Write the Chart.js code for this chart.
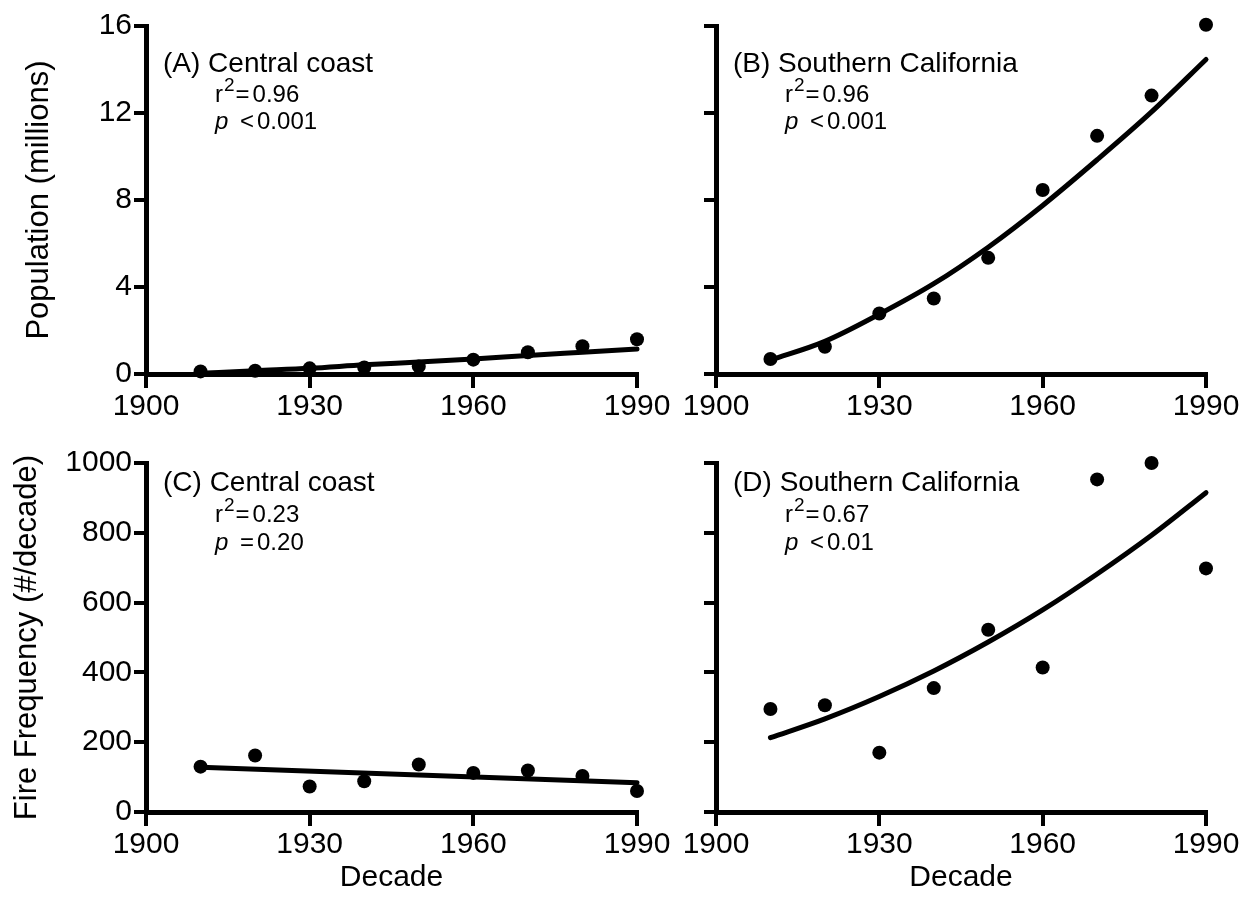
<!DOCTYPE html>
<html>
<head>
<meta charset="utf-8">
<script src="https://cdn.jsdelivr.net/npm/chart.js@4.4.1/dist/chart.umd.min.js"></script>
<style>
html, body { margin: 0; padding: 0; background: #fff; }
.panel { position: absolute; }
</style>
</head>
<body>
<div class="panel" style="left:0;top:0;width:673px;height:440px"><canvas id="chartA"></canvas></div>
<div class="panel" style="left:673px;top:0;width:576px;height:440px"><canvas id="chartB"></canvas></div>
<div class="panel" style="left:0;top:440px;width:673px;height:476px"><canvas id="chartC"></canvas></div>
<div class="panel" style="left:673px;top:440px;width:576px;height:476px"><canvas id="chartD"></canvas></div>
<script>
// decades sampled
const decades = [1910, 1920, 1930, 1940, 1950, 1960, 1970, 1980, 1990];
const xTicks = [1900, 1930, 1960, 1990];

// population (millions)
const popCentral = [0.12, 0.15, 0.26, 0.30, 0.35, 0.66, 1.00, 1.28, 1.60];
const popCentralFit = [0.03, 0.15, 0.26, 0.42, 0.55, 0.69, 0.85, 1.00, 1.15];
const popSouth = [0.69, 1.25, 2.78, 3.47, 5.34, 8.46, 10.95, 12.80, 16.06];
const popSouthFit = [0.64, 1.50, 2.75, 4.15, 5.83, 7.75, 9.85, 12.05, 14.46];

// fire frequency (#/decade)
const fireCentral = [130, 162, 73, 88, 136, 112, 119, 103, 60];
const fireCentralFitYears = [1910, 1990];
const fireCentralFit = [128, 84];
const fireSouth = [295, 306, 170, 355, 522, 414, 953, 1000, 698];
const fireSouthFit = [213, 267, 331, 404, 487, 579, 682, 793, 915];

const popTicks = [0, 4, 8, 12, 16];
const fireTicks = [0, 200, 400, 600, 800, 1000];

const FONT = '"Liberation Sans", Arial, Helvetica, sans-serif';
Chart.defaults.font.family = FONT;
Chart.defaults.color = '#000';

const pts = (xs, ys) => xs.map((x, i) => ({ x: x, y: ys[i] }));

// text block in the top-left corner of each panel
const notePlugin = {
    id: 'panelNote',
    afterDraw(chart, args, opts) {
        if (!opts.heading) return;
        const { ctx, chartArea } = chart;
        const x0 = chartArea.left + 17;
        const xr = chartArea.left + 69;
        const y0 = chartArea.top + opts.dy[0];
        const y1 = chartArea.top + opts.dy[1];
        const y2 = chartArea.top + opts.dy[2];
        ctx.save();
        ctx.fillStyle = '#000';
        ctx.textAlign = 'left';
        ctx.textBaseline = 'middle';
        ctx.font = '28px ' + FONT;
        ctx.fillText(opts.heading, x0, y0);

        ctx.font = '24px ' + FONT;
        ctx.fillText('r', xr, y1);
        let x = xr + ctx.measureText('r').width + 1;
        ctx.font = '19px ' + FONT;
        ctx.fillText('2', x, y1 - 9);
        x += ctx.measureText('2').width + 1;
        ctx.font = '24px ' + FONT;
        ctx.fillText('=', x, y1);
        x += ctx.measureText('=').width + 3;
        ctx.fillText(opts.r2, x, y1);

        ctx.font = 'italic 24px ' + FONT;
        ctx.fillText('p', xr, y2);
        x = xr + 25;
        ctx.font = '24px ' + FONT;
        ctx.fillText(opts.pOp, x, y2);
        x += ctx.measureText(opts.pOp).width + 3;
        ctx.fillText(opts.p, x, y2);
        ctx.restore();
    }
};

function makePanel(id, cfg) {
    const ctx = document.getElementById(id).getContext('2d');
    return new Chart(ctx, {
        type: 'scatter',
        data: {
            datasets: [{
                label: 'observed',
                data: cfg.points,
                showLine: false,
                pointRadius: 7,
                pointHoverRadius: 7,
                pointBackgroundColor: '#000',
                pointBorderColor: '#000',
                pointBorderWidth: 0,
                clip: false
            }, {
                label: 'fit',
                data: cfg.fit,
                showLine: true,
                borderColor: '#000',
                borderWidth: 5,
                pointRadius: 0,
                cubicInterpolationMode: 'monotone',
                borderCapStyle: 'round',
                clip: false
            }]
        },
        options: {
            responsive: true,
            maintainAspectRatio: false,
            animation: false,
            events: [],
            layout: { padding: cfg.padding },
            plugins: {
                legend: { display: false },
                tooltip: { enabled: false },
                panelNote: cfg.note
            },
            scales: {
                x: {
                    type: 'linear',
                    min: 1900,
                    max: 1990,
                    afterBuildTicks: s => { s.ticks = xTicks.map(v => ({ value: v })); },
                    afterFit: s => { s.height = cfg.xHeight; },
                    border: { display: true, color: '#000', width: 5 },
                    grid: { drawOnChartArea: false, color: '#000', lineWidth: 4, tickLength: 14 },
                    ticks: {
                        font: { size: 30 }, padding: 1, maxRotation: 0, color: '#000',
                        callback: v => String(v)
                    },
                    title: {
                        display: !!cfg.xTitle,
                        text: cfg.xTitle || '',
                        font: { size: 30 },
                        color: '#000',
                        padding: { top: 0, bottom: 20 }
                    }
                },
                y: {
                    type: 'linear',
                    min: cfg.yTicks[0],
                    max: cfg.yTicks[cfg.yTicks.length - 1],
                    afterBuildTicks: s => { s.ticks = cfg.yTicks.map(v => ({ value: v })); },
                    afterFit: s => { s.width = cfg.yWidth; },
                    border: { display: true, color: '#000', width: 5 },
                    grid: { drawOnChartArea: false, color: '#000', lineWidth: 4, tickLength: 12 },
                    ticks: {
                        display: cfg.yLabels, font: { size: 30 }, padding: 2, color: '#000',
                        callback: v => String(v)
                    },
                    title: {
                        display: !!cfg.yTitle,
                        text: cfg.yTitle || '',
                        font: { size: 31 },
                        color: '#000',
                        padding: { top: cfg.yTitlePad || 0, bottom: 0 }
                    }
                }
            }
        },
        plugins: [notePlugin]
    });
}

makePanel('chartA', {
    points: pts(decades, popCentral),
    fit: pts(decades, popCentralFit),
    yTicks: popTicks,
    yLabels: true,
    yTitle: 'Population (millions)',
    yTitlePad: 21,
    yWidth: 146,
    xHeight: 66,
    padding: { left: 0, top: 26, right: 36, bottom: 0 },
    note: { heading: '(A) Central coast', r2: '0.96', pOp: '<', p: '0.001', dy: [38, 69, 96] }
});

makePanel('chartB', {
    points: pts(decades, popSouth),
    fit: pts(decades, popSouthFit),
    yTicks: popTicks,
    yLabels: false,
    yWidth: 43,
    xHeight: 66,
    padding: { left: 0, top: 26, right: 43, bottom: 0 },
    note: { heading: '(B) Southern California', r2: '0.96', pOp: '<', p: '0.001', dy: [38, 69, 96] }
});

makePanel('chartC', {
    points: pts(decades, fireCentral),
    fit: pts(fireCentralFitYears, fireCentralFit),
    yTicks: fireTicks,
    yLabels: true,
    yTitle: 'Fire Frequency (#/decade)',
    yTitlePad: 9,
    xTitle: 'Decade',
    yWidth: 146,
    xHeight: 104,
    padding: { left: 0, top: 23, right: 36, bottom: 0 },
    note: { heading: '(C) Central coast', r2: '0.23', pOp: '=', p: '0.20', dy: [20, 52, 80] }
});

makePanel('chartD', {
    points: pts(decades, fireSouth),
    fit: pts(decades, fireSouthFit),
    yTicks: fireTicks,
    yLabels: false,
    xTitle: 'Decade',
    yWidth: 43,
    xHeight: 104,
    padding: { left: 0, top: 23, right: 43, bottom: 0 },
    note: { heading: '(D) Southern California', r2: '0.67', pOp: '<', p: '0.01', dy: [20, 52, 80] }
});
</script>
</body>
</html>
